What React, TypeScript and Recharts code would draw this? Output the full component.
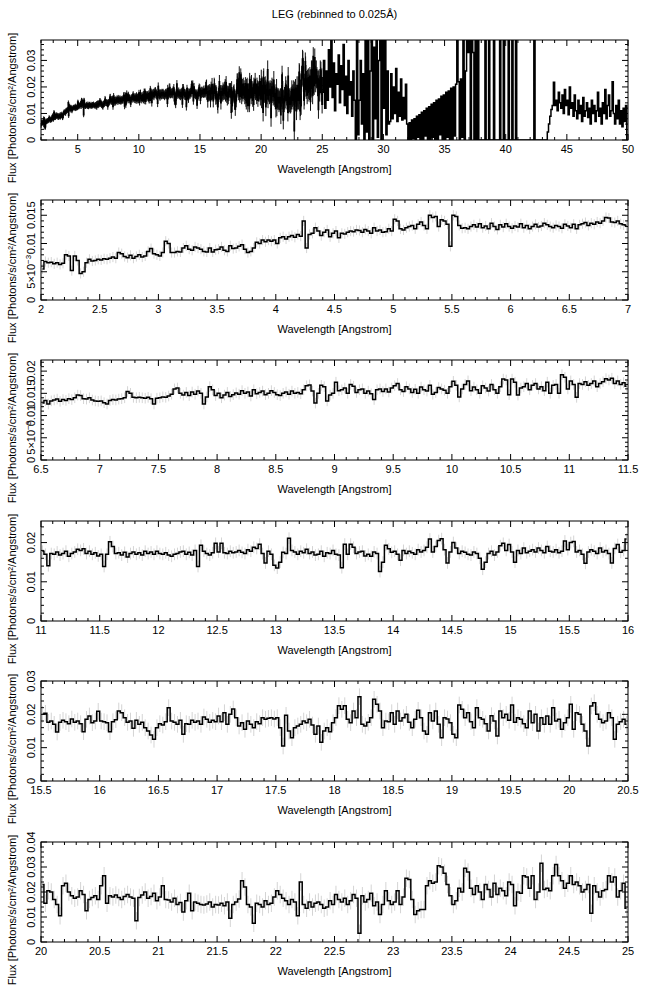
import React from 'react';
import { ComposedChart, Line, XAxis, YAxis, ErrorBar } from 'recharts';

const FONT = '"Liberation Sans", Arial, Helvetica, sans-serif';

// Flux, in units of 1e-4 photons/s/cm2/A, 0.025 A bins
const S_2_65 = [
  55, 68, 66, 67, 64, 66, 63, 65, 80, 78, 52, 78, 70, 47, 50, 66, 72, 69, 70, 72,
  71, 73, 72, 74, 76, 74, 84, 82, 77, 75, 79, 74, 77, 80, 76, 78, 86, 91, 82, 80,
  78, 84, 104, 100, 84, 84, 86, 85, 92, 96, 90, 88, 94, 92, 90, 86, 85, 92, 85, 89,
  90, 94, 88, 86, 96, 91, 92, 95, 98, 90, 84, 86, 92, 102, 100, 106, 103, 106, 104, 106,
  100, 110, 112, 108, 112, 114, 111, 116, 113, 140, 92, 116, 118, 128, 122, 114, 120, 124, 112, 118,
  122, 110, 118, 117, 120, 122, 121, 124, 123, 120, 125, 122, 118, 128, 122, 124, 120, 121, 126, 122,
  143, 140, 126, 124, 128, 130, 132, 126, 134, 138, 132, 126, 150, 146, 148, 130, 142, 140, 134, 95,
  150, 148, 132, 127, 128, 126, 130, 133, 129, 135, 128, 131, 126, 136, 130, 125, 133, 129, 135, 130,
  127, 131, 129, 135, 128, 132, 126, 130, 134, 129, 131, 136, 133, 130, 128, 132, 130, 127, 134, 131,
];
const S_65_7 = [128, 134, 126, 133, 135, 137, 132, 136, 134, 138, 136, 140, 146, 145, 138, 137, 140, 135, 133, 132];
const S_7_11 = [
  133, 129, 126, 134, 136, 135, 137, 138, 140, 154, 150, 141, 140, 141, 140, 139, 141, 138, 126, 139,
  140, 142, 141, 144, 148, 160, 162, 150, 146, 152, 145, 153, 148, 155, 150, 126, 142, 165, 158, 145,
  150, 140, 146, 152, 143, 147, 151, 148, 156, 150, 153, 144, 158, 149, 152, 155, 147, 150, 156, 152,
  147, 145, 150, 153, 148, 155, 150, 152, 149, 158, 167, 169, 155, 128, 150, 168, 165, 133, 146, 150,
  175, 156, 158, 162, 150, 170, 166, 152, 158, 160, 150, 155, 149, 136, 158, 160, 154, 160, 153, 162,
  167, 172, 158, 154, 165, 160, 152, 159, 150, 164, 158, 155, 168, 148, 152, 163, 160, 157, 150, 165,
  177, 168, 142, 160, 170, 178, 156, 164, 158, 150, 167, 162, 155, 170, 158, 150, 165, 182, 180, 147,
  182, 175, 146, 162, 165, 172, 158, 168, 172, 160, 165, 156, 175, 150, 168, 170, 150, 192, 186, 160,
];
const S_11_115 = [178, 170, 141, 172, 170, 176, 168, 172, 178, 165, 172, 176, 183, 180, 184, 172, 178, 170, 174, 166];
const S_115_155 = [
  170, 139, 170, 202, 190, 172, 174, 168, 175, 163, 172, 176, 170, 174, 168, 178, 172, 176, 170, 178,
  172, 170, 174, 168, 165, 170, 172, 176, 178, 170, 175, 168, 180, 139, 193, 178, 172, 168, 174, 198,
  176, 198, 174, 172, 178, 174, 176, 180, 175, 172, 182, 178, 188, 185, 196, 172, 148, 178, 170, 142,
  135, 150, 175, 172, 211, 180, 176, 170, 178, 174, 183, 172, 176, 168, 170, 178, 165, 174, 172, 180,
  170, 168, 136, 196, 170, 196, 188, 172, 176, 178, 166, 170, 165, 176, 172, 126, 150, 193, 184, 175,
  178, 170, 155, 180, 172, 178, 174, 170, 182, 176, 180, 188, 209, 176, 190, 205, 210, 182, 148, 176,
  200, 186, 172, 178, 175, 170, 168, 176, 172, 160, 132, 150, 172, 178, 168, 176, 192, 198, 180, 195,
  176, 150, 180, 172, 186, 174, 178, 182, 176, 186, 180, 174, 190, 178, 176, 182, 174, 178, 204, 182,
];
const S_155_16 = [200, 203, 176, 180, 170, 147, 176, 182, 178, 172, 186, 176, 180, 172, 148, 185, 195, 175, 180, 209];
const S_16_20 = [
  180, 178, 175, 148, 178, 184, 210, 205, 190, 176, 180, 158, 182, 170, 176, 160, 150, 138, 125, 160,
  172, 168, 178, 220, 180, 176, 170, 182, 140, 172, 170, 182, 176, 180, 170, 192, 185, 176, 182, 178,
  195, 178, 205, 170, 200, 216, 190, 165, 175, 155, 180, 170, 160, 178, 172, 190, 185, 188, 190, 186,
  190, 160, 105, 197, 150, 130, 160, 165, 170, 180, 175, 185, 168, 140, 165, 116, 150, 160, 148, 175,
  190, 226, 215, 226, 185, 175, 210, 190, 253, 170, 165, 176, 190, 245, 230, 210, 160, 180, 178, 205,
  170, 210, 180, 190, 200, 176, 160, 185, 212, 190, 150, 140, 205, 180, 210, 170, 130, 190, 186, 175,
  140, 130, 228, 215, 190, 205, 178, 160, 220, 190, 185, 172, 150, 196, 180, 135, 210, 190, 200, 182,
  228, 176, 190, 185, 172, 160, 210, 175, 200, 150, 190, 170, 195, 170, 220, 180, 185, 155, 175, 190,
];
const S_20_205 = [230, 155, 205, 200, 170, 150, 105, 225, 235, 200, 185, 175, 180, 205, 190, 125, 170, 178, 185, 170];
const S_205_25 = [
  225, 265, 155, 185, 180, 188, 178, 170, 182, 190, 180, 175, 85, 178, 188, 200, 175, 182, 195, 165,
  180, 225, 170, 168, 160, 175, 150, 158, 120, 165, 195, 125, 160, 155, 150, 148, 152, 160, 140, 150,
  148, 155, 145, 160, 95, 150, 160, 172, 245, 220, 150, 140, 75, 155, 150, 140, 165, 150, 155, 180,
  205, 190, 175, 165, 150, 170, 160, 105, 240, 150, 135, 160, 140, 155, 160, 150, 135, 140, 165, 150,
  190, 170, 160, 175, 150, 165, 190, 175, 35, 185, 160, 170, 195, 145, 160, 110, 150, 205, 165, 150,
  160, 205, 150, 180, 255, 250, 170, 110, 125, 130, 130, 225, 245, 235, 240, 305, 300, 275, 230, 185,
  150, 165, 215, 200, 295, 280, 215, 190, 225, 200, 170, 230, 210, 180, 235, 190, 215, 205, 185, 240,
  230, 145, 200, 195, 265, 260, 215, 265, 170, 200, 315, 210, 215, 205, 265, 310, 265, 245, 215, 235,
  265, 230, 240, 225, 200, 210, 230, 115, 225, 200, 180, 205, 210, 265, 240, 260, 180, 205, 235, 135,
];

// long-wavelength part of the overview, read at 0.1 A bins
const S_25_50 = [
  180, 300, 120, 260, 150, 340, 200, 380, 160, 290, 110, 250, 210, 320, 140, 280, 190, 360, 130, 240,
  100, 300, 170, 220, 90, 260, 150,
  0, 380, 20, 150, 300, 60, 250, 0, 400, 30, 420, 0, 260, 400, 0, 350, 80, 400, 10, 300,
  420, 0, 380, 120, 400, 20, 260, 60,
  70, 250, 80, 200, 100, 270, 70, 180, 90, 230, 75, 160, 80, 210, 60,
  0, 65, 0, 75, 5, 80, 0, 90, 10, 95,
  0, 105, 0, 110, 15, 120, 0, 125, 0, 135,
  10, 140, 0, 150, 0, 155, 20, 165, 0, 170,
  0, 180, 10, 185, 0, 195, 0, 200, 15, 210,
  400, 220, 0, 230, 10, 400, 0, 260, 400, 330,
  400, 0, 400, 330, 0, 400, 0, 400, 0, 0,
  0, 0, 0, 400, 0, 0, 400, 0, 0, 0,
  400, 0, 0, 0, 0, 400, 0, 0, 400, 0,
  0, 0, 400, 0, 0, 400, 0, 0, 400, 0,
  0, 0, 0, 0, 0, 0, 0, 0, 0, 0,
  0, 0, 0, 400, 0, 0, 0, 0, 0, 0,
  0, 0, 0,
  0, 30, 60, 90, 115, 130,
  218, 130, 150, 110, 180, 140, 120, 170, 100, 190,
  130, 150, 95, 200, 120, 140, 90, 170, 110, 80,
  150, 100, 130, 70, 160, 90, 110, 140, 85, 120,
  60, 150, 100, 130, 70, 110, 180, 90, 120, 60,
  140, 100, 190, 80, 130, 170, 90, 110, 220, 100,
  60, 130, 80, 150, 60, 110, 50, 120, 70, 130,
  0,
];

// error half-widths by wavelength range (1e-4 units)
const ERR_2_65 = 9;
const ERR_65_11 = 12;
const ERR_11_155 = 15;
const ERR_155_20 = 25;
const ERR_20_25 = 35;

const X_LABELS_P1 = [5, 10, 15, 20, 25, 30, 35, 40, 45, 50];
const X_LABELS_P2 = [2, 2.5, 3, 3.5, 4, 4.5, 5, 5.5, 6, 6.5, 7];
const X_LABELS_P3 = [6.5, 7, 7.5, 8, 8.5, 9, 9.5, 10, 10.5, 11, 11.5];
const X_LABELS_P4 = [11, 11.5, 12, 12.5, 13, 13.5, 14, 14.5, 15, 15.5, 16];
const X_LABELS_P5 = [15.5, 16, 16.5, 17, 17.5, 18, 18.5, 19, 19.5, 20, 20.5];
const X_LABELS_P6 = [20, 20.5, 21, 21.5, 22, 22.5, 23, 23.5, 24, 24.5, 25];

const Y_LABELS_P1 = [0, 0.01, 0.02, 0.03];
const Y_LABELS_P2 = [0, 0.005, 0.01, 0.015];
const Y_LABELS_P3 = [0, 0.005, 0.01, 0.015, 0.02];
const Y_LABELS_P4 = [0, 0.01, 0.02];
const Y_LABELS_P5 = [0, 0.01, 0.02, 0.03];
const Y_LABELS_P6 = [0, 0.01, 0.02, 0.03, 0.04];

const W = 647;
const H = 150;
const PLOT_L = 41;
const PLOT_R = 628;
const PLOT_T = 10;
const PLOT_B = 110;

const bins = (start: number, step: number, vals: number[], err?: number) =>
  vals.map((v, i) => ({ x: +(start + step * (i + 0.5)).toFixed(4), y: v / 1e4, e: err != null ? err / 1e4 : 0 }));

const steps = (lo: number, hi: number, st: number) => {
  const out: number[] = [];
  const n = Math.round((hi - lo) / st);
  for (let i = 0; i <= n; i++) out.push(+(lo + i * st).toFixed(4));
  return out;
};

const isIn = (arr: number[], v: number) => arr.some((m) => Math.abs(m - v) < 1e-7);
const fmt = (v: number) => String(parseFloat(v.toFixed(4)));

const yText = (v: number) => {
  if (Math.abs(v - 0.005) < 1e-9) {
    return (
      <>
        5×10<tspan dy={-4} fontSize={8}>−3</tspan>
      </>
    );
  }
  return fmt(v);
};

interface PanelProps {
  top: number;
  data: { x: number; y: number; e: number }[];
  xr: [number, number];
  xMajor: number[];
  xMinor: number;
  yMax: number;
  yMajor: number[];
  yMinor: number;
  errColor: string;
}

const Panel: React.FC<PanelProps> = ({ top, data, xr, xMajor, xMinor, yMax, yMajor, yMinor, errColor }) => {
  const xTicks = steps(xr[0], xr[1], xMinor);
  const yTicks = steps(0, yMax, yMinor).filter((v) => v <= yMax + 1e-9);

  const xTick = (p: any) => {
    const { x, y, payload } = p;
    const major = isIn(xMajor, payload.value);
    const len = major ? 6 : 3;
    return (
      <g>
        <line x1={x} y1={y} x2={x} y2={y - len} stroke="#000" />
        <line x1={x} y1={PLOT_T} x2={x} y2={PLOT_T + len} stroke="#000" />
        {major && (
          <text x={x} y={y + 13} textAnchor="middle" fontSize={11} fontFamily={FONT} fill="#000">
            {fmt(payload.value)}
          </text>
        )}
      </g>
    );
  };

  const yTick = (p: any) => {
    const { x, y, payload } = p;
    const major = isIn(yMajor, payload.value);
    const len = major ? 6 : 3;
    return (
      <g>
        <line x1={x} y1={y} x2={x + len} y2={y} stroke="#000" />
        <line x1={PLOT_R} y1={y} x2={PLOT_R - len} y2={y} stroke="#000" />
        {major && (
          <text
            transform={`translate(${x - 6},${y}) rotate(-90)`}
            textAnchor="middle"
            fontSize={11}
            fontFamily={FONT}
            fill="#000"
          >
            {yText(payload.value)}
          </text>
        )}
      </g>
    );
  };

  return (
    <div style={{ position: 'absolute', left: 0, top, width: W, height: H }}>
      <ComposedChart width={W} height={H} data={data} margin={{ top: PLOT_T, right: W - PLOT_R, bottom: 0, left: 0 }}>
        <XAxis
          dataKey="x"
          type="number"
          domain={xr}
          allowDataOverflow
          ticks={xTicks}
          interval={0}
          tickSize={0}
          tickMargin={0}
          axisLine={false}
          tickLine={false}
          height={H - PLOT_B}
          tick={xTick}
        />
        <YAxis
          type="number"
          domain={[0, yMax]}
          allowDataOverflow
          ticks={yTicks}
          interval={0}
          tickSize={0}
          tickMargin={0}
          axisLine={false}
          tickLine={false}
          width={PLOT_L}
          tick={yTick}
        />
        <Line dataKey="y" stroke="none" dot={false} activeDot={false} isAnimationActive={false} legendType="none">
          <ErrorBar dataKey="e" width={0} stroke={errColor} strokeWidth={1} direction="y" />
        </Line>
        <Line
          type="step"
          dataKey="y"
          stroke="#000"
          strokeWidth={1.5}
          dot={false}
          activeDot={false}
          isAnimationActive={false}
        />
      </ComposedChart>
      <svg
        width={W}
        height={H}
        style={{ position: 'absolute', left: 0, top: 0, overflow: 'visible', pointerEvents: 'none' }}
      >
        <rect x={PLOT_L} y={PLOT_T} width={PLOT_R - PLOT_L} height={PLOT_B - PLOT_T} fill="none" stroke="#000" />
        <text x={(PLOT_L + PLOT_R) / 2} y={PLOT_B + 33} textAnchor="middle" fontSize={11} fontFamily={FONT} fill="#000">
          Wavelength [Angstrom]
        </text>
        <text
          transform={`translate(16,${(PLOT_T + PLOT_B) / 2 + 18}) rotate(-90)`}
          textAnchor="middle"
          fontSize={11}
          fontFamily={FONT}
          fill="#000"
        >
          Flux [Photons/s/cm²/Angstrom]
        </text>
      </svg>
    </div>
  );
};

const App: React.FC = () => {
  const p1 = [
    ...bins(2, 0.025, S_2_65, ERR_2_65),
    ...bins(6.5, 0.025, S_65_7, ERR_65_11),
    ...bins(7, 0.025, S_7_11, ERR_65_11),
    ...bins(11, 0.025, S_11_115, ERR_11_155),
    ...bins(11.5, 0.025, S_115_155, ERR_11_155),
    ...bins(15.5, 0.025, S_155_16, ERR_155_20),
    ...bins(16, 0.025, S_16_20, ERR_155_20),
    ...bins(20, 0.025, S_20_205, ERR_20_25),
    ...bins(20.5, 0.025, S_205_25, ERR_20_25),
    ...bins(25, 0.1, S_25_50),
  ];
  const p2 = [...bins(2, 0.025, S_2_65, ERR_2_65), ...bins(6.5, 0.025, S_65_7, ERR_2_65)];
  const p3 = [
    ...bins(6.5, 0.025, S_65_7, ERR_65_11),
    ...bins(7, 0.025, S_7_11, ERR_65_11),
    ...bins(11, 0.025, S_11_115, ERR_65_11),
  ];
  const p4 = [
    ...bins(11, 0.025, S_11_115, ERR_11_155),
    ...bins(11.5, 0.025, S_115_155, ERR_11_155),
    ...bins(15.5, 0.025, S_155_16, ERR_11_155),
  ];
  const p5 = [
    ...bins(15.5, 0.025, S_155_16, ERR_155_20),
    ...bins(16, 0.025, S_16_20, ERR_155_20),
    ...bins(20, 0.025, S_20_205, ERR_155_20),
  ];
  const p6 = [...bins(20, 0.025, S_20_205, ERR_20_25), ...bins(20.5, 0.025, S_205_25, ERR_20_25)];

  return (
    <div style={{ position: 'absolute', left: 0, top: 0, width: W, height: 995, background: '#fff' }}>
      <svg width={W} height={30} style={{ position: 'absolute', left: 0, top: 0 }}>
        <text x={(PLOT_L + PLOT_R) / 2} y={18} textAnchor="middle" fontSize={11} fontFamily={FONT} fill="#000">
          LEG (rebinned to 0.025Å)
        </text>
      </svg>
      <Panel top={30} data={p1} xr={[2, 50]} xMajor={X_LABELS_P1} xMinor={1} yMax={0.0377} yMajor={Y_LABELS_P1} yMinor={0.002} errColor="#111" />
      <Panel top={190} data={p2} xr={[2, 7]} xMajor={X_LABELS_P2} xMinor={0.1} yMax={0.0177} yMajor={Y_LABELS_P2} yMinor={0.001} errColor="#d4d4d4" />
      <Panel top={350} data={p3} xr={[6.5, 11.5]} xMajor={X_LABELS_P3} xMinor={0.1} yMax={0.0225} yMajor={Y_LABELS_P3} yMinor={0.001} errColor="#d4d4d4" />
      <Panel top={511} data={p4} xr={[11, 16]} xMajor={X_LABELS_P4} xMinor={0.1} yMax={0.0255} yMajor={Y_LABELS_P4} yMinor={0.002} errColor="#d4d4d4" />
      <Panel top={671} data={p5} xr={[15.5, 20.5]} xMajor={X_LABELS_P5} xMinor={0.1} yMax={0.03} yMajor={Y_LABELS_P5} yMinor={0.002} errColor="#d4d4d4" />
      <Panel top={832} data={p6} xr={[20, 25]} xMajor={X_LABELS_P6} xMinor={0.1} yMax={0.04} yMajor={Y_LABELS_P6} yMinor={0.002} errColor="#d4d4d4" />
    </div>
  );
};

export default App;
